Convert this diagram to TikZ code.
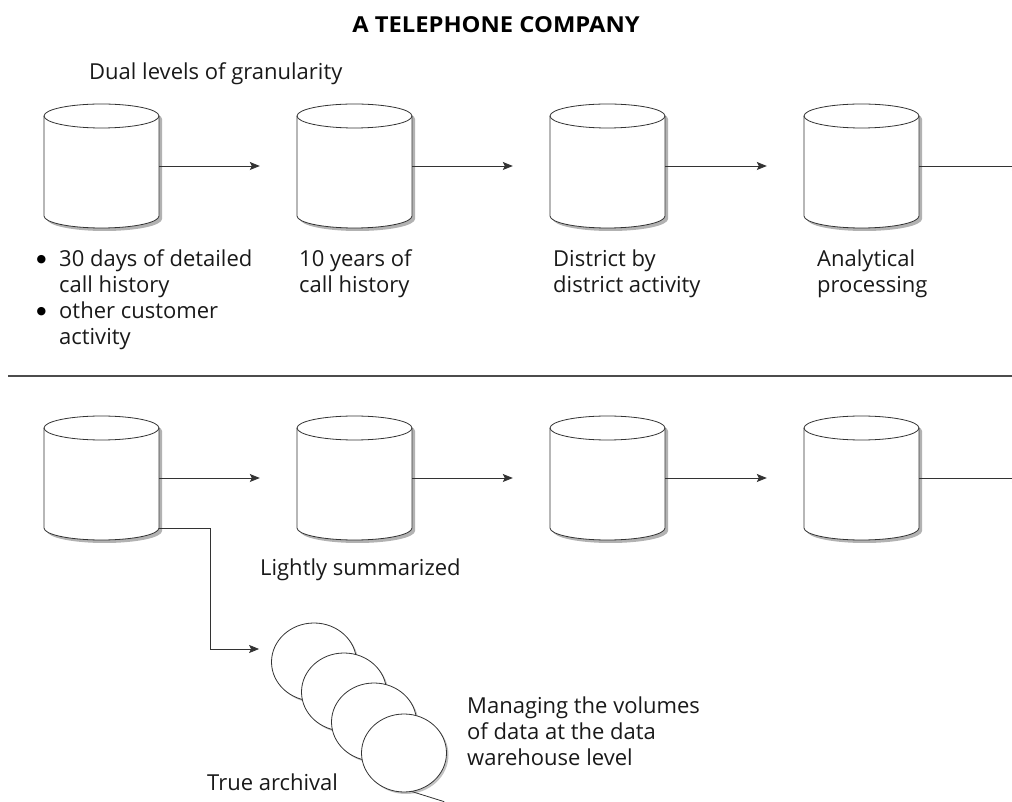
\documentclass[tikz,border=0pt]{standalone}
\usepackage{fontspec}
\setmainfont{Open Sans}
\newfontfamily\symfont{DejaVu Sans}
\usetikzlibrary{arrows.meta,shapes.geometric,shadows}
\begin{document}
\begin{tikzpicture}[x=1pt,y=1pt,
  cylbox/.style={draw=none,rectangle,minimum width=115pt,minimum height=124pt,inner sep=0pt},
  cylline/.style={draw=black!80,line width=0.8pt,fill=white},
  cylshadow/.style={fill=black!30},
  arr/.style={draw=black!80,line width=0.8pt,-{Stealth[length=10pt,width=8pt,inset=2pt]}},
  plain/.style={draw=black!80,line width=0.8pt},
  reel/.style={ellipse,draw=black!80,line width=0.8pt,fill=white,minimum width=85pt,minimum height=78pt,inner sep=0pt,
     drop shadow={shadow xshift=2pt,shadow yshift=-2pt,fill=black!40,opacity=0.6}},
  lbl/.style={anchor=base west,inner sep=0pt,font=\fontsize{22}{26}\selectfont,text=black!90},
  bul/.style={anchor=center,inner sep=0pt,font=\symfont\fontsize{11}{11}\selectfont,text=black},
  ttl/.style={anchor=base,inner sep=0pt,font=\bfseries\fontsize{22}{24}\selectfont\addfontfeature{FakeStretch=1.08},text=black}
]
\useasboundingbox (0,0) rectangle (1012,801);
\newcommand\drum[3]{%
  \node[cylbox] (#1) at (#2,#3) {};
  \fill[cylshadow] ({#2-57.5+3},{#3+50-3}) -- ({#2-57.5+3},{#3-50-3}) arc[start angle=180,end angle=360,x radius=57.5,y radius=12] -- ({#2+57.5+3},{#3+50-3}) arc[start angle=0,end angle=180,x radius=57.5,y radius=12] -- cycle;
  \filldraw[cylline] ({#2-57.5},{#3+50}) -- ({#2-57.5},{#3-50}) arc[start angle=180,end angle=360,x radius=57.5,y radius=12] -- ({#2+57.5},{#3+50}) arc[start angle=0,end angle=180,x radius=57.5,y radius=12] -- cycle;
  \draw[cylline,fill=none] ({#2-57.5},{#3+50}) arc[start angle=180,end angle=360,x radius=57.5,y radius=12];
}
% title
\node[ttl] (title) at (496,768) {A TELEPHONE COMPANY};
\node[lbl] (dual) at (89,721) {Dual levels of granularity};
% top row
\drum{c1}{101.5}{635}
\drum{c2}{354.5}{635}
\drum{c3}{607.5}{635}
\drum{c4}{861.5}{635}
\coordinate (e1) at (1022,635);
\draw[arr] (c1.east) -- ([xshift=-37pt]c2.west);
\draw[arr] (c2.east) -- ([xshift=-37pt]c3.west);
\draw[arr] (c3.east) -- ([xshift=-37pt]c4.west);
\draw[arr] (c4.east) -- (e1);
% top labels
\node[bul] (b1) at (41.5,541) {●};
\node[lbl] (t1a) at (59,534) {30 days of detailed};
\node[lbl] (t1b) at (59,508) {call history};
\node[bul] (b2) at (41.5,489) {●};
\node[lbl] (t1c) at (59,482) {other customer};
\node[lbl] (t1d) at (59,456) {activity};
\node[lbl] (t2a) at (299,534) {10 years of};
\node[lbl] (t2b) at (299,508) {call history};
\node[lbl] (t3a) at (553,534) {District by};
\node[lbl] (t3b) at (553,508) {district activity};
\node[lbl] (t4a) at (817,534) {Analytical};
\node[lbl] (t4b) at (817,508) {processing};
% divider
\coordinate (dl) at (8,425);
\coordinate (dr) at (1012,425);
\draw[draw=black!70,line width=1.2pt] (dl) -- (dr);
% bottom row
\drum{c5}{101.5}{323}
\drum{c6}{354.5}{323}
\drum{c7}{607.5}{323}
\drum{c8}{861.5}{323}
\coordinate (e2) at (1022,323);
\draw[arr] (c5.east) -- ([xshift=-37pt]c6.west);
\draw[arr] (c6.east) -- ([xshift=-37pt]c7.west);
\draw[arr] (c7.east) -- ([xshift=-37pt]c8.west);
\draw[arr] (c8.east) -- (e2);
\node[lbl] (ls) at (260,225) {Lightly summarized};
% reels
\node[reel] (r1) at (314,139) {};
\node[reel] (r2) at (344,109) {};
\node[reel] (r3) at (374,79) {};
\node[reel] (r4) at (404,48) {};
\draw[plain] (r4.-78) -- ++(32,-10);
\draw[arr] ([yshift=12pt]c5.south east) -- ++(51,0) |- ([shift={(-12pt,13pt)}]r1.west);
\node[lbl] (ma) at (467,88) {Managing the volumes};
\node[lbl] (mb) at (467,62) {of data at the data};
\node[lbl] (mc) at (467,36) {warehouse level};
\node[lbl] (ta) at (207,11) {True archival};
\end{tikzpicture}
\end{document}
